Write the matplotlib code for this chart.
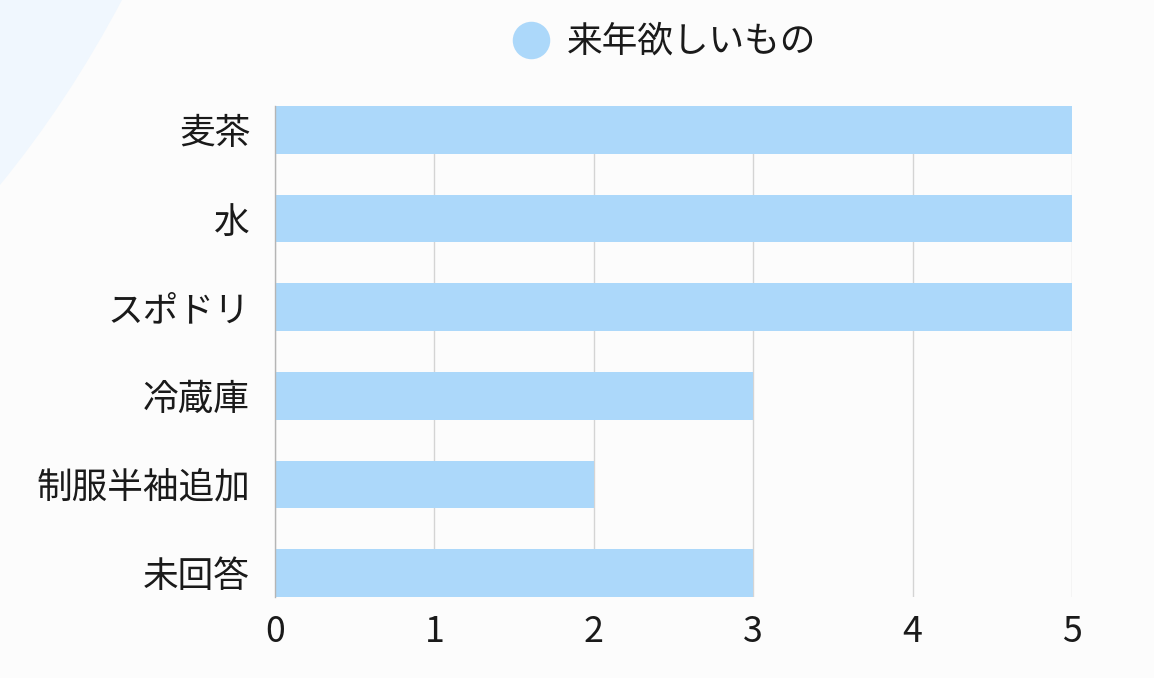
import numpy as np
import matplotlib
matplotlib.use('Agg')
import matplotlib.pyplot as plt
from matplotlib.path import Path
from matplotlib.patches import PathPatch

plt.rcParams['font.family'] = ['Noto Sans CJK JP', 'DejaVu Sans']

categories = ['麦茶', '水', 'スポドリ', '冷蔵庫', '制服半袖追加', '未回答']
values = [5, 5, 5, 3, 2, 3]
series_name = '来年欲しいもの'
x_ticks = [0, 1, 2, 3, 4, 5]

bar_color = '#acd8fa'
W, H = 1154, 678

fig = plt.figure(figsize=(W / 100, H / 100), dpi=100)
fig.patch.set_facecolor('#fcfcfc')

# light blue swoosh in the top-left corner
verts = [(0, 1), (122 / W, 1), (68 / W, 1 - 102 / H), (0, 1 - 185 / H), (0, 1)]
codes = [Path.MOVETO, Path.LINETO, Path.CURVE3, Path.CURVE3, Path.CLOSEPOLY]
fig.patches.append(PathPatch(Path(verts, codes), transform=fig.transFigure,
                             facecolor='#f0f7fe', edgecolor='none', zorder=0))

ax = fig.add_axes([275 / W, 1 - 597 / H, (1072 - 275) / W, (597 - 106) / H])
ax.set_facecolor('none')

y = np.arange(len(categories))
ax.barh(y, values, height=0.54, color=bar_color, zorder=2)

ax.set_xlim(0, 5)
ax.set_ylim(len(categories) - 1 + 0.27, -0.27)
ax.set_xticks(x_ticks)
ax.set_yticks(y)
ax.set_yticklabels(categories, fontsize=25.7)
ax.tick_params(axis='both', length=0, labelsize=25.7, colors='#1a1a1a')
ax.tick_params(axis='y', pad=18)
ax.tick_params(axis='x', pad=12)

ax.grid(axis='x', color='#d4d4d4', linewidth=1, zorder=1)
for s in ['top', 'right', 'bottom']:
    ax.spines[s].set_visible(False)
ax.spines['left'].set_color('#b5b5b5')
ax.spines['left'].set_linewidth(1)

# legend
fig.legend(handles=[plt.Line2D([], [], marker='o', linestyle='none', markersize=27,
                               markerfacecolor=bar_color, markeredgecolor='none')],
           labels=[series_name], loc='center', bbox_to_anchor=(656 / W, 1 - 42 / H),
           frameon=False, fontsize=25.7, handletextpad=0.0, labelcolor='#1a1a1a')

fig.savefig('out.png', dpi=100, facecolor=fig.get_facecolor())
